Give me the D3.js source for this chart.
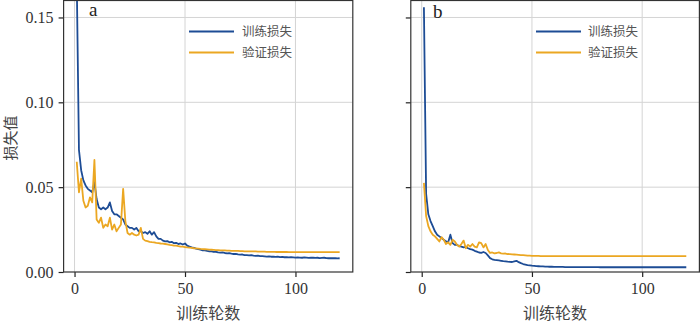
<!DOCTYPE html>
<html><head><meta charset="utf-8">
<script src="https://cdn.jsdelivr.net/npm/d3@7"></script>
<style>
body{margin:0;background:#fff;}
svg{display:block;}
</style></head>
<body>
<svg id="chart" width="700" height="324"></svg>
<script>
// ---------- data ----------
const leftTrain = [0.172,0.072,0.060,0.054,0.051,0.049,0.048,0.047,0.053,0.043,
0.038,0.037,0.038,0.037,0.038,0.041,0.036,0.034,0.034,0.033,
0.032,0.031,0.028,0.027,0.026,0.026,0.025,0.026,0.024,0.024,
0.023,0.0235,0.0225,0.024,0.022,0.0235,0.021,0.0195,0.0195,0.0185,
0.018,0.0182,0.0175,0.0178,0.017,0.0172,0.0165,0.0168,0.0162,0.0168,
0.0155,0.015,0.0145,0.0142,0.0138,0.0135,0.0132,0.0128,0.0127,0.0124,
0.0122,0.0121,0.0118,0.0119,0.0116,0.0114,0.0115,0.0112,0.011,0.0111,
0.0108,0.0106,0.0107,0.0104,0.0102,0.0103,0.0100,0.0099,0.0098,0.0099,
0.0096,0.0095,0.0096,0.0094,0.0093,0.0092,0.0091,0.0092,0.0090,0.0090,
0.0089,0.0090,0.0088,0.0089,0.0087,0.0088,0.0086,0.0087,0.0086,0.0085,
0.0086,0.0085,0.0084,0.0086,0.0085,0.0083,0.0084,0.0085,0.0083,0.0084,
0.0082,0.0083,0.0084,0.0082,0.0081,0.0082,0.0081,0.0082,0.0080,0.0081];

const leftVal = [0.065,0.047,0.055,0.042,0.038,0.039,0.044,0.041,0.066,0.031,
0.029,0.032,0.026,0.028,0.027,0.032,0.025,0.028,0.024,0.026,
0.028,0.049,0.030,0.023,0.022,0.023,0.022,0.0215,0.022,0.026,
0.0195,0.0185,0.0182,0.0178,0.0176,0.0175,0.0172,0.0170,0.0168,0.0167,
0.0165,0.0163,0.0160,0.0158,0.0156,0.0155,0.0152,0.0150,0.0149,0.0147,
0.0145,0.0144,0.0142,0.0140,0.0139,0.0138,0.0136,0.0135,0.0134,0.0133,
0.0132,0.0131,0.0130,0.0129,0.0129,0.0128,0.0127,0.0127,0.0126,0.0126,
0.0125,0.0125,0.0124,0.0124,0.0123,0.0123,0.0122,0.0122,0.0122,0.0121,
0.0121,0.0121,0.0120,0.0120,0.0120,0.0120,0.0119,0.0119,0.0119,0.0119,
0.0118,0.0118,0.0118,0.0118,0.0118,0.0118,0.0117,0.0117,0.0117,0.0117,
0.0117,0.0117,0.0117,0.0117,0.0117,0.0117,0.0117,0.0117,0.0117,0.0117,
0.0117,0.0117,0.0117,0.0117,0.0117,0.0117,0.0117,0.0117,0.0117,0.0117];

const rightTrain = [0.156,0.046,0.034,0.030,0.027,0.024,0.022,0.021,0.020,0.019,
0.018,0.0175,0.022,0.017,0.016,0.016,0.0152,0.015,0.0145,0.0148,
0.014,0.0135,0.0132,0.0125,0.012,0.0115,0.0113,0.0118,0.0112,0.0098,
0.0082,0.0075,0.0072,0.0070,0.0068,0.0066,0.0064,0.0063,0.0061,0.0060,
0.0059,0.0063,0.0066,0.0058,0.0052,0.0047,0.0044,0.0041,0.0039,0.0037,
0.0036,0.0035,0.0034,0.0033,0.0033,0.0032,0.0032,0.0031,0.0031,0.0030,
0.0030,0.0030,0.0030,0.0030,0.0029,0.0029,0.0029,0.0029,0.0029,0.0029,
0.0029,0.0029,0.0029,0.0029,0.0029,0.0029,0.0029,0.0029,0.0029,0.0029,
0.0028,0.0028,0.0028,0.0028,0.0028,0.0028,0.0028,0.0028,0.0028,0.0028,
0.0028,0.0028,0.0028,0.0028,0.0028,0.0028,0.0028,0.0028,0.0028,0.0028,
0.0028,0.0028,0.0028,0.0028,0.0028,0.0028,0.0028,0.0028,0.0028,0.0028,
0.0028,0.0028,0.0028,0.0028,0.0028,0.0028,0.0028,0.0028,0.0028,0.0028];

const rightVal = [0.0525,0.033,0.027,0.024,0.022,0.021,0.0195,0.018,0.0205,0.019,
0.0165,0.0175,0.016,0.019,0.018,0.016,0.015,0.0165,0.0185,0.014,
0.016,0.015,0.0165,0.015,0.0145,0.0175,0.017,0.0145,0.0165,0.013,
0.0112,0.0115,0.0110,0.0112,0.0116,0.0110,0.0108,0.0109,0.0106,0.0105,
0.0104,0.0103,0.0102,0.0101,0.0100,0.0099,0.0098,0.0097,0.0096,0.0095,
0.0095,0.0095,0.0095,0.0094,0.0094,0.0094,0.0094,0.0094,0.0094,0.0094,
0.0094,0.0094,0.0094,0.0094,0.0094,0.0094,0.0094,0.0094,0.0094,0.0094,
0.0093,0.0093,0.0093,0.0093,0.0093,0.0093,0.0093,0.0093,0.0093,0.0093,
0.0093,0.0093,0.0093,0.0093,0.0093,0.0093,0.0093,0.0093,0.0093,0.0093,
0.0093,0.0093,0.0093,0.0093,0.0093,0.0093,0.0093,0.0093,0.0093,0.0093,
0.0093,0.0093,0.0093,0.0093,0.0093,0.0093,0.0093,0.0093,0.0093,0.0093,
0.0093,0.0093,0.0093,0.0093,0.0093,0.0093,0.0093,0.0093,0.0093,0.0093];

const xTicks = [0, 50, 100];
const yTicks = [0.00, 0.05, 0.10, 0.15];
const seriesNames = ["训练损失", "验证损失"];
const panelLabels = ["a", "b"];
const xLabel = "训练轮数";
const yLabel = "损失值";

// ---------- styles ----------
const colors = ["#1d4c95", "#eba722"];
const numFont = "'Liberation Serif','Times New Roman',serif";
const cjkFont = "'Noto Sans CJK SC','Noto Sans',sans-serif";

const svg = d3.select("#chart");
const plotTop = 0.5, plotBottom = 272;
const panels = [
  {left: 63.6, right: 352.8, data: [leftTrain, leftVal], label: panelLabels[0], showY: true, lab: [89, 16], leg: [189, 234, 242]},
  {left: 410.8, right: 699.4, data: [rightTrain, rightVal], label: panelLabels[1], showY: false, lab: [433, 18], leg: [536, 581, 588]}
];

const y = d3.scaleLinear().domain([0, 0.16]).range([plotBottom, plotTop]);

panels.forEach((p, i) => {
  const x = d3.scaleLinear().domain([-4.95, 125.95]).range([p.left, p.right]);
  const g = svg.append("g");
  const clipId = "clip" + i;
  svg.append("clipPath").attr("id", clipId).append("rect")
    .attr("x", p.left).attr("y", plotTop).attr("width", p.right - p.left).attr("height", plotBottom - plotTop);

  // grid
  g.selectAll(".vg").data(xTicks).join("line")
    .attr("x1", d => x(d)).attr("x2", d => x(d)).attr("y1", plotTop).attr("y2", plotBottom)
    .attr("stroke", "#d4d4d4").attr("stroke-width", 1);
  g.selectAll(".hg").data(yTicks.filter(d => d > 0)).join("line")
    .attr("x1", p.left).attr("x2", p.right).attr("y1", d => y(d)).attr("y2", d => y(d))
    .attr("stroke", "#d4d4d4").attr("stroke-width", 1);

  // lines
  const line = d3.line().x((d, k) => x(k + 1)).y(d => y(d));
  p.data.forEach((arr, s) => {
    g.append("path").datum(arr).attr("d", line)
      .attr("fill", "none").attr("stroke", colors[s]).attr("stroke-width", 1.8)
      .attr("stroke-linejoin", "round")
      .attr("clip-path", `url(#${clipId})`);
  });

  // axes
  const xAxis = d3.axisBottom(x).tickValues(xTicks).tickSize(5).tickPadding(6).tickFormat(d3.format("d"));
  const ax = g.append("g").attr("transform", `translate(0,${plotBottom})`).call(xAxis);
  const yAxis = d3.axisLeft(y).tickValues(yTicks).tickSize(5).tickPadding(5)
    .tickFormat(p.showY ? d3.format(".2f") : () => "");
  const ay = g.append("g").attr("transform", `translate(${p.left},0)`).call(yAxis);
  [ax, ay].forEach(a => {
    a.select(".domain").remove();
    a.selectAll("line").attr("stroke", "#222").attr("stroke-width", 1.2);
    a.selectAll("text").attr("font-family", numFont).attr("font-size", 16).attr("fill", "#333");
  });

  // frame
  g.append("rect").attr("x", p.left).attr("y", plotTop).attr("width", p.right - p.left).attr("height", plotBottom - plotTop)
    .attr("fill", "none").attr("stroke", "#333").attr("stroke-width", 1.2);

  // panel label
  g.append("text").attr("x", p.lab[0]).attr("y", p.lab[1]).text(p.label)
    .attr("font-family", numFont).attr("font-size", 19).attr("fill", "#222");

  // legend
  seriesNames.forEach((nm, s) => {
    const ly = 31.5 + s * 21;
    g.append("line").attr("x1", p.leg[0]).attr("x2", p.leg[1]).attr("y1", ly).attr("y2", ly)
      .attr("stroke", colors[s]).attr("stroke-width", 2);
    g.append("text").attr("x", p.leg[2]).attr("y", ly).attr("dy", "0.36em").text(nm)
      .attr("font-family", cjkFont).attr("font-size", 12.5).attr("fill", "#555");
  });

  // x label
  g.append("text").attr("x", (p.left + p.right) / 2).attr("y", 313).attr("dy", "0.36em")
    .attr("text-anchor", "middle").text(xLabel)
    .attr("font-family", cjkFont).attr("font-size", 16).attr("fill", "#444");
});

svg.append("text").attr("transform", "translate(11,138) rotate(-90)")
  .attr("text-anchor", "middle").attr("dy", "0.36em").text(yLabel)
  .attr("font-family", cjkFont).attr("font-size", 15).attr("fill", "#444");
</script>
</body></html>
